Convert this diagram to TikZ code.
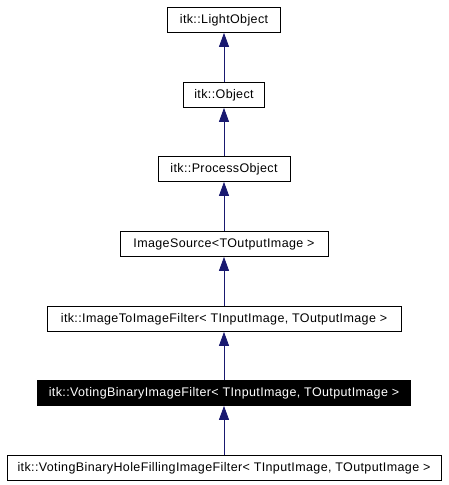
\documentclass[tikz,border=0pt]{standalone}
\usepackage{fontspec}
\setmainfont{Liberation Sans}
\usetikzlibrary{arrows.meta}
\definecolor{edgeblue}{HTML}{191970}
\tikzset{
  cls/.style={draw=black, fill=white, line width=0.8pt, minimum height=25pt, inner sep=0pt, font=\fontsize{12.5}{14}\selectfont\addfontfeature{LetterSpace=3}, text=black},
  hl/.style={cls, fill=black, text=white},
  inh/.style={draw=edgeblue, line width=0.9pt, -{Triangle[length=14pt,width=10pt,fill=edgeblue]}}
}
\begin{document}
\begin{tikzpicture}[x=1pt,y=-1pt]
\useasboundingbox (0,0) rectangle (448,485);
\node[cls, minimum width=113pt] (a) at (224,20) {itk::LightObject};
\node[cls, minimum width=81pt] (b) at (224,95) {itk::Object};
\node[cls, minimum width=132pt] (c) at (224,169) {itk::ProcessObject};
\node[cls, minimum width=208pt] (d) at (224,244) {ImageSource<TOutputImage >};
\node[cls, minimum width=354pt] (e) at (224,319) {itk::ImageToImageFilter< TInputImage, TOutputImage >};
\node[hl, minimum width=373pt] (f) at (224,393) {itk::VotingBinaryImageFilter< TInputImage, TOutputImage >};
\node[cls, minimum width=434pt] (g) at (224,468) {itk::VotingBinaryHoleFillingImageFilter< TInputImage, TOutputImage >};
\draw[inh] (b.north) -- (a.south);
\draw[inh] (c.north) -- (b.south);
\draw[inh] (d.north) -- (c.south);
\draw[inh] (e.north) -- (d.south);
\draw[inh] (f.north) -- (e.south);
\draw[inh] (g.north) -- (f.south);
\end{tikzpicture}
\end{document}
